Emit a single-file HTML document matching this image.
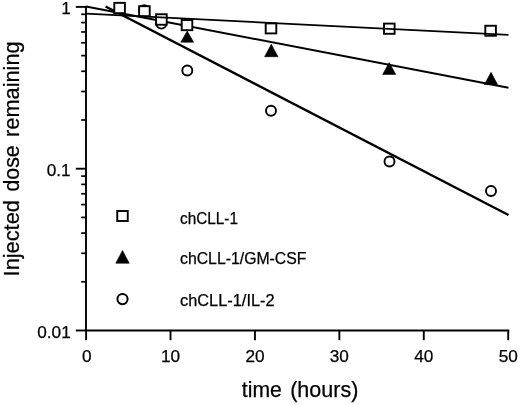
<!DOCTYPE html>
<html><head><meta charset="utf-8"><title>chart</title>
<style>
html,body{margin:0;padding:0;background:#fff;}
svg{display:block;}
text{font-family:"Liberation Sans",Arial,Helvetica,sans-serif;fill:#000;stroke:#000;stroke-width:0.25px;}
</style></head><body>
<svg width="520" height="405" viewBox="0 0 520 405">
<rect width="520" height="405" fill="#fff"/>
<g stroke="#000" fill="none" stroke-linecap="butt">
<line x1="105.6" y1="6.5" x2="508.5" y2="215" stroke-width="2.5"/>
<circle cx="144.3" cy="10.2" r="5.0" stroke-width="1.9"/>
<circle cx="161.4" cy="23.6" r="5.0" stroke-width="1.9"/>
<circle cx="187.3" cy="70.5" r="5.0" stroke-width="1.9"/>
<circle cx="271" cy="110.7" r="5.0" stroke-width="1.9"/>
<circle cx="389.5" cy="161.5" r="5.0" stroke-width="1.9"/>
<circle cx="491" cy="191" r="5.0" stroke-width="1.9"/>
<line x1="86" y1="6.5" x2="508.5" y2="87.7" stroke-width="2.0"/>
</g>
<polygon points="187.2,31 193.6,42.2 180.79999999999998,42.2" fill="#000" stroke="#000" stroke-width="0.6" stroke-linejoin="round"/>
<polygon points="271.3,44.2 278.0,56.7 264.6,56.7" fill="#000" stroke="#000" stroke-width="0.6" stroke-linejoin="round"/>
<polygon points="389.2,62.5 395.75,74.4 382.65,74.4" fill="#000" stroke="#000" stroke-width="0.6" stroke-linejoin="round"/>
<polygon points="491,72.3 497.55,84.6 484.45,84.6" fill="#000" stroke="#000" stroke-width="0.6" stroke-linejoin="round"/>
<rect x="114.30" y="2.85" width="10.6" height="10.3" fill="#fff" stroke="#000" stroke-width="1.9"/>
<rect x="139.10" y="6.20" width="10.6" height="10.0" fill="#fff" stroke="#000" stroke-width="1.9"/>
<rect x="156.10" y="14.25" width="10.6" height="10.5" fill="#fff" stroke="#000" stroke-width="1.9"/>
<rect x="181.70" y="20.00" width="10.6" height="10.2" fill="#fff" stroke="#000" stroke-width="1.9"/>
<rect x="265.70" y="23.40" width="10.6" height="10.0" fill="#fff" stroke="#000" stroke-width="1.9"/>
<rect x="384.00" y="23.60" width="10.6" height="10.2" fill="#fff" stroke="#000" stroke-width="1.9"/>
<rect x="485.30" y="25.75" width="10.6" height="10.0" fill="#fff" stroke="#000" stroke-width="1.9"/>
<line x1="86" y1="13.7" x2="508.5" y2="34.8" stroke="#000" stroke-width="1.8"/>
<g stroke="#000" stroke-width="1.9" fill="none" stroke-linecap="butt">
<path d="M86.0,6.1000000000000005 V330.5 H509.3"/>
<line x1="75.8" y1="6.90" x2="86.0" y2="6.90"/>
<line x1="75.8" y1="168.70" x2="86.0" y2="168.70"/>
<line x1="75.8" y1="330.50" x2="86.0" y2="330.50"/>
<line x1="81.2" y1="119.99" x2="86.0" y2="119.99" stroke-width="1.7"/>
<line x1="81.2" y1="91.50" x2="86.0" y2="91.50" stroke-width="1.7"/>
<line x1="81.2" y1="71.29" x2="86.0" y2="71.29" stroke-width="1.7"/>
<line x1="81.2" y1="55.61" x2="86.0" y2="55.61" stroke-width="1.7"/>
<line x1="81.2" y1="42.80" x2="86.0" y2="42.80" stroke-width="1.7"/>
<line x1="81.2" y1="31.96" x2="86.0" y2="31.96" stroke-width="1.7"/>
<line x1="81.2" y1="22.58" x2="86.0" y2="22.58" stroke-width="1.7"/>
<line x1="81.2" y1="14.30" x2="86.0" y2="14.30" stroke-width="1.7"/>
<line x1="81.2" y1="281.79" x2="86.0" y2="281.79" stroke-width="1.7"/>
<line x1="81.2" y1="253.30" x2="86.0" y2="253.30" stroke-width="1.7"/>
<line x1="81.2" y1="233.09" x2="86.0" y2="233.09" stroke-width="1.7"/>
<line x1="81.2" y1="217.41" x2="86.0" y2="217.41" stroke-width="1.7"/>
<line x1="81.2" y1="204.60" x2="86.0" y2="204.60" stroke-width="1.7"/>
<line x1="81.2" y1="193.76" x2="86.0" y2="193.76" stroke-width="1.7"/>
<line x1="81.2" y1="184.38" x2="86.0" y2="184.38" stroke-width="1.7"/>
<line x1="81.2" y1="176.10" x2="86.0" y2="176.10" stroke-width="1.7"/>
<line x1="86.10" y1="330.5" x2="86.10" y2="340.2"/>
<line x1="170.52" y1="330.5" x2="170.52" y2="340.2"/>
<line x1="254.94" y1="330.5" x2="254.94" y2="340.2"/>
<line x1="339.36" y1="330.5" x2="339.36" y2="340.2"/>
<line x1="423.78" y1="330.5" x2="423.78" y2="340.2"/>
<line x1="508.20" y1="330.5" x2="508.20" y2="340.2"/>
</g>
<text x="86.70" y="362" font-size="17.2" text-anchor="middle">0</text>
<text x="170.52" y="362" font-size="17.2" text-anchor="middle">10</text>
<text x="254.94" y="362" font-size="17.2" text-anchor="middle">20</text>
<text x="339.36" y="362" font-size="17.2" text-anchor="middle">30</text>
<text x="423.78" y="362" font-size="17.2" text-anchor="middle">40</text>
<text x="508.20" y="362" font-size="17.2" text-anchor="middle">50</text>
<text x="70.7" y="14.30" font-size="17.2" text-anchor="end">1</text>
<text x="70.7" y="176.10" font-size="17.2" text-anchor="end">0.1</text>
<text x="70.7" y="337.90" font-size="17.2" text-anchor="end">0.01</text>
<text x="241.8" y="397.2" font-size="21.5" textLength="40.0" lengthAdjust="spacingAndGlyphs">time</text>
<text x="290.2" y="397.2" font-size="21.5">(hours)</text>
<text transform="translate(18.7,276.4) rotate(-90)" font-size="21.8" textLength="76.3" lengthAdjust="spacingAndGlyphs">Injected</text>
<text transform="translate(18.7,191.5) rotate(-90)" font-size="21.8" textLength="46.2" lengthAdjust="spacingAndGlyphs">dose</text>
<text transform="translate(18.7,137.0) rotate(-90)" font-size="21.8" textLength="95.7" lengthAdjust="spacingAndGlyphs">remaining</text>
<rect x="117.25" y="211" width="10.5" height="10" fill="#fff" stroke="#000" stroke-width="1.9"/>
<polygon points="122.5,250.5 129.2,263.2 115.8,263.2" fill="#000" stroke="#000" stroke-width="0.6" stroke-linejoin="round"/>
<circle cx="122.5" cy="299.1" r="5.1" fill="none" stroke="#000" stroke-width="2.0"/>
<text x="180" y="223.7" font-size="15.6" textLength="58" lengthAdjust="spacingAndGlyphs">chCLL-1</text>
<text x="180" y="264.3" font-size="15.6" textLength="126.5" lengthAdjust="spacingAndGlyphs">chCLL-1/GM-CSF</text>
<text x="180" y="305.7" font-size="15.6" textLength="94.6" lengthAdjust="spacingAndGlyphs">chCLL-1/IL-2</text>
</svg></body></html>
